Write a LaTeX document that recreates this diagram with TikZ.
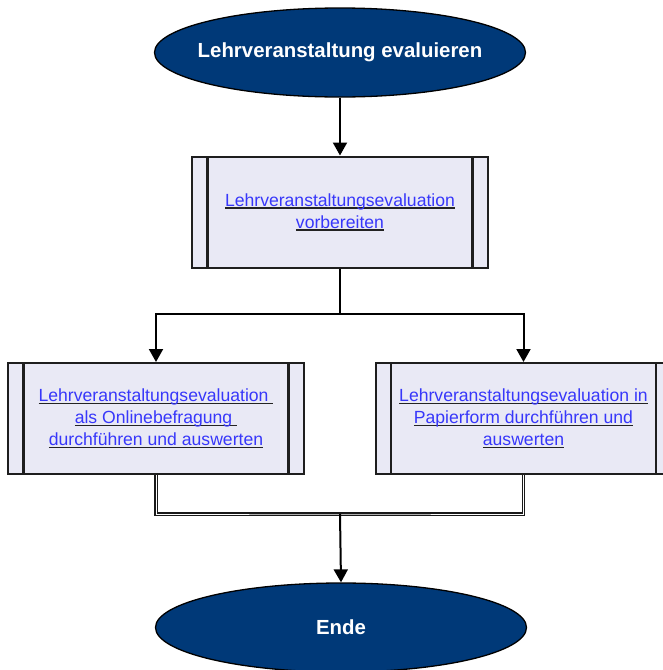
\documentclass[tikz,border=0pt]{standalone}
\usepackage{fontspec}
\setmainfont{Liberation Sans}
\usetikzlibrary{shapes.geometric,arrows.meta}
\definecolor{navy}{RGB}{0,57,120}
\definecolor{boxfill}{RGB}{233,233,245}
\definecolor{linkblue}{RGB}{55,55,250}
\definecolor{ulcol}{RGB}{35,35,35}
\definecolor{edge}{RGB}{30,30,30}
\newcommand\lnk[1]{\setbox0=\hbox{\color{linkblue}#1}\rlap{\color{ulcol}\rule[-2.4pt]{\wd0}{1.1pt}}\box0}
\tikzset{
  terminal/.style={ellipse, draw=black, line width=1.3pt, fill=navy, text=white,
    minimum width=371pt, minimum height=89pt, inner sep=0pt,
    font=\fontsize{20.4}{24}\selectfont\bfseries},
  procbox/.style={rectangle, draw=edge, line width=2pt, fill=boxfill,
    minimum width=296pt, minimum height=111pt, inner sep=0pt, align=center,
    font=\fontsize{17.6}{22}\selectfont,
    path picture={
      \draw[edge, line width=2.2pt]
      ([xshift=15.5pt]path picture bounding box.north west) -- ([xshift=15.5pt]path picture bounding box.south west)
      ([xshift=-15.5pt]path picture bounding box.north east) -- ([xshift=-15.5pt]path picture bounding box.south east);
    }},
  arr/.style={draw=black, line width=2pt, -{Triangle[length=13pt,width=14pt]}},
  plain/.style={draw=black, line width=2pt},
  hollow/.style={draw=black!90, line width=1.1pt, double=white, double distance=1pt}
}
\begin{document}
\begin{tikzpicture}[x=1pt,y=-1pt]
\useasboundingbox (0,0) rectangle (662,670);
\node[terminal] (start) at (340,52.5) {\makebox[0pt]{Lehrveranstaltung evaluieren}};
\node[procbox] (prep) at (340,212) {\lnk{Lehrveranstaltungsevaluation}\\\lnk{vorbereiten}};
\node[procbox] (online) at (156,418.5) {\lnk{Lehrveranstaltungsevaluation\ }\\\lnk{als Onlinebefragung\ }\\\lnk{durchführen und auswerten}};
\node[procbox] (paper) at (523.5,418.5) {\lnk{Lehrveranstaltungsevaluation in}\\\lnk{Papierform durchführen und}\\\lnk{auswerten}};
\node[terminal] (end) at (341,627.5) {\makebox[0pt]{Ende}};
\coordinate (split) at (340,314);
\coordinate (merge) at (340,514);
\draw[arr] (start.south) -- (prep.north);
\draw[plain] (prep.south) -- (split);
\draw[arr] (split) -| (online.north);
\draw[arr] (split) -| (paper.north);
\draw[hollow] (online.south) |- (merge) -| (paper.south);
\draw[arr] (merge) -- (end.north);
\end{tikzpicture}
\end{document}
